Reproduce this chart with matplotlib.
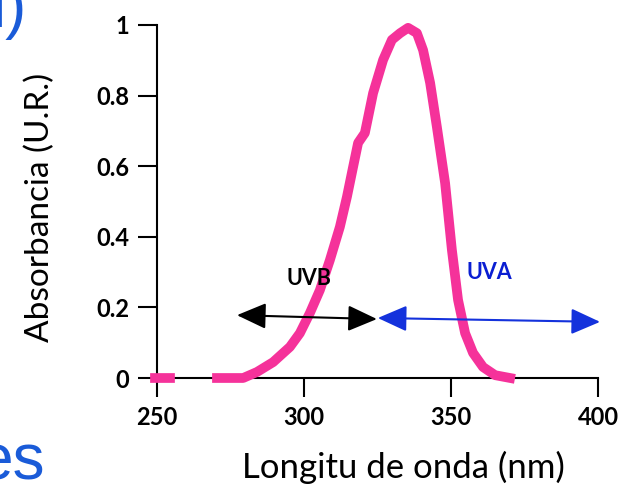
import matplotlib
matplotlib.use('Agg')
import matplotlib.pyplot as plt

# espectro de absorbancia
wavelength = [270.4, 279.3, 284.0, 289.5, 295.2, 298.6, 302.0, 305.4, 308.8, 312.2,
              314.6, 316.7, 318.4, 320.7, 323.5, 326.9, 329.9, 332.7, 335.4, 338.4,
              340.5, 342.9, 345.2, 348.0, 350.3, 352.4, 354.8, 357.5, 360.9, 365.0, 370.1]
absorbance = [0.0, 0.0, 0.017, 0.045, 0.088, 0.127, 0.184, 0.249, 0.334, 0.428,
              0.513, 0.598, 0.666, 0.694, 0.807, 0.901, 0.958, 0.977, 0.992, 0.977,
              0.929, 0.836, 0.711, 0.552, 0.363, 0.221, 0.127, 0.071, 0.031, 0.008, 0.0]
stub_wl = [249.4, 254.4]
stub_abs = [0.0, 0.0]

# flechas UVB / UVA
uvb_arrow = [(277.2, 0.178), (324.8, 0.167)]
uva_arrow = [(325.1, 0.170), (400.7, 0.159)]
uvb_label = (301.7, 0.283)
uva_label = (362.9, 0.300)

xticks = [250, 300, 350, 400]
yticks = [0, 0.2, 0.4, 0.6, 0.8, 1]
ytick_labels = ['0', '0.2', '0.4', '0.6', '0.8', '1']

pink = '#F5329A'
plt.rcParams['font.family'] = ['Lato', 'DejaVu Sans']

fig = plt.figure(figsize=(6.21, 4.88), dpi=100)
ax = fig.add_axes([157 / 621, 110 / 488, 441 / 621, 353 / 488])

ax.plot(wavelength, absorbance, color=pink, lw=7, clip_on=False, zorder=3)
ax.plot(stub_wl, stub_abs, color=pink, lw=7, clip_on=False, zorder=3)

ax.annotate('', xy=uvb_arrow[0], xytext=uvb_arrow[1],
            arrowprops=dict(arrowstyle='<|-|>,head_length=0.9,head_width=0.4',
                            color='black', lw=1.5, mutation_scale=20,
                            shrinkA=0, shrinkB=0), annotation_clip=False)
ax.annotate('', xy=uva_arrow[0], xytext=uva_arrow[1],
            arrowprops=dict(arrowstyle='<|-|>,head_length=0.9,head_width=0.4',
                            color='#1432DC', lw=1.5, mutation_scale=20,
                            shrinkA=0, shrinkB=0), annotation_clip=False)
ax.text(*uvb_label, 'UVB', fontsize=15.5, fontweight='bold', color='black',
        ha='center', va='center')
ax.text(*uva_label, 'UVA', fontsize=15.5, fontweight='bold', color='#0A1ED2',
        ha='center', va='center')

ax.set_xlim(250, 400)
ax.set_ylim(0, 1)
ax.set_xticks(xticks)
ax.set_xticklabels([str(t) for t in xticks])
ax.set_yticks(yticks)
ax.set_yticklabels(ytick_labels)
for s in ['top', 'right']:
    ax.spines[s].set_visible(False)
for s in ['left', 'bottom']:
    ax.spines[s].set_linewidth(1.5)
ax.tick_params(direction='out', length=14, width=1.5, labelsize=17, pad=6)
for lab in ax.get_xticklabels() + ax.get_yticklabels():
    lab.set_fontweight('bold')

ax.set_xlabel('Longitu de onda (nm)', fontsize=25)
ax.xaxis.set_label_coords(0.558, -0.205)
ax.set_ylabel('Absorbancia (U.R.)', fontsize=24)
ax.yaxis.set_label_coords(-0.232, 0.484)

# restos del texto de la diapositiva
fig.text(27 / 621, 1 - 27 / 488, 'l)', fontsize=46, color='#1A5BD8',
         ha='right', va='baseline', family='Liberation Sans')
fig.text(45 / 621, 1 - 480 / 488, 'es', fontsize=46, color='#1A5BD8',
         ha='right', va='baseline', family='Liberation Sans')

fig.savefig('out.png', dpi=100)
